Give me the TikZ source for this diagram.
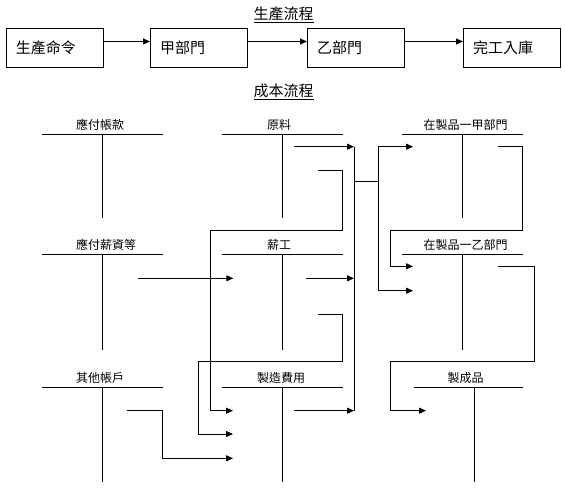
\documentclass[tikz,border=0pt]{standalone}
\usepackage{fontspec}
\newfontfamily\cjk{Noto Sans CJK TC}
\usetikzlibrary{arrows.meta,calc}
\tikzset{
  ln/.style={line width=0.9pt},
  arr/.style={ln,-{Triangle[length=7pt,width=6pt]}},
  boxnode/.style={draw,ln,anchor=north west,inner xsep=10pt,inner ysep=0pt,text width=77pt,align=left,minimum height=39.5pt,outer sep=0pt,font=\cjk\fontsize{15}{15}\selectfont},
  ttl/.style={font=\cjk\fontsize{15}{15}\selectfont,inner sep=0pt},
  lbl/.style={font=\cjk\fontsize{12}{12}\selectfont,inner sep=0pt}
}
% \tacc{name}{label}{x1}{x2}{xv}{y}{ybot}{labelx}{anchor}
\newcommand{\tacc}[9]{%
  \node[lbl,anchor=#9] (#1) at (#8,#6-9) {#2};
  \coordinate (#1L) at (#3,#6);
  \coordinate (#1R) at (#4,#6);
  \coordinate (#1T) at (#5,#6);
  \coordinate (#1B) at (#5,#7);
  \draw[ln] (#1L) -- (#1R);
  \draw[ln] (#1T) -- (#1B);
}
\begin{document}
\begin{tikzpicture}[x=1pt,y=-1pt]
\useasboundingbox (0,0) rectangle (565,497);
% production flow
\node[ttl] (t1) at (283.5,14.5) {\underline{生產流程}};
\node[boxnode] (b1) at (6,28) {生產命令};
\node[boxnode] (b2) at (150,28) {甲部門};
\node[boxnode] (b3) at (307,28) {乙部門};
\node[boxnode] (b4) at (463,28) {完工入庫};
\draw[arr] ([yshift=-13.5pt]b1.north east) -- ([yshift=-13.5pt]b2.north west);
\draw[arr] ([yshift=-13.5pt]b2.north east) -- ([yshift=-13.5pt]b3.north west);
\draw[arr] ([yshift=-13.5pt]b3.north east) -- ([yshift=-13.5pt]b4.north west);
% cost flow
\node[ttl] (t2) at (283.5,91.5) {\underline{成本流程}};
\tacc{A}{應付帳款}{41.7}{162.7}{102.3}{134.3}{218}{76}{west}
\tacc{B}{原料}{221.7}{342.7}{282.7}{134.3}{218}{279}{center}
\tacc{C}{在製品一甲部門}{402.3}{522.7}{462.7}{134.3}{218}{465.5}{center}
\tacc{D}{應付薪資等}{41.7}{162.7}{102.3}{254.3}{350}{76}{west}
\tacc{E}{薪工}{221.7}{342.7}{282.7}{254.3}{350}{279}{center}
\tacc{F}{在製品一乙部門}{402.3}{522.7}{462.7}{254.3}{350}{465.5}{center}
\tacc{G}{其他帳戶}{41.7}{162.7}{102.3}{387.3}{482.3}{76}{west}
\tacc{H}{製造費用}{221.7}{342.7}{282.7}{387.3}{482.3}{281}{center}
\tacc{I}{製成品}{414.3}{522.7}{474.3}{387.3}{482.3}{465.5}{center}
% bus coordinates
\coordinate (bus1T) at (354,146.7);
\coordinate (bus1B) at (354,410.7);
\coordinate (bus1M) at (354,181.7);
\coordinate (bus2T) at (378.3,146.7);
\coordinate (bus2B) at (378.3,290.7);
\coordinate (bus2M) at (378.3,181.7);
\draw[ln] (bus1T) -- (bus1B);
\draw[ln] (bus1M) -- (bus2M);
\draw[ln] (bus2T) -- (bus2B);
% free ends
\coordinate (Bo1) at (294,146.7);
\coordinate (Bo2) at (318.3,170.7);
\coordinate (Hi1) at (233,410.7);
\coordinate (Do1) at (138.3,278.3);
\coordinate (Ei1) at (233.3,278.3);
\coordinate (Eo1) at (306,278.3);
\coordinate (Eo2) at (318.3,314.3);
\coordinate (Hi2) at (233,434);
\coordinate (Go1) at (126.7,410.7);
\coordinate (Hi3) at (233,458.3);
\coordinate (Ho1) at (294,410.7);
\coordinate (Ci1) at (413,146.7);
\coordinate (Fi1) at (413,290.7);
\coordinate (Co1) at (498.3,146.7);
\coordinate (Fi2) at (413,266.3);
\coordinate (Fo1) at (498.3,266.3);
\coordinate (Ii1) at (426,410.7);
% connectors
\draw[arr] (Bo1) -- (bus1T);
\draw[arr] (Bo2) -- (342.7,170.7) -- (342.7,230) -- (210.7,230) -- (210.7,410.7) -- (Hi1);
\draw[arr] (Do1) -- (Ei1);
\draw[arr] (Eo1) -- (bus1T |- Eo1);
\draw[arr] (Eo2) -- (342.7,314.3) -- (342.7,361.7) -- (198.7,361.7) -- (198.7,434) -- (Hi2);
\draw[arr] (Go1) -- (162.7,410.7) -- (162.7,458.3) -- (Hi3);
\draw[arr] (Ho1) -- (bus1B);
\draw[arr] (bus2T) -- (Ci1);
\draw[arr] (bus2B) -- (Fi1);
\draw[arr] (Co1) -- (522.7,146.7) -- (522.7,230) -- (390,230) -- (390,266.3) -- (Fi2);
\draw[arr] (Fo1) -- (534.3,266.3) -- (534.3,361.7) -- (390,361.7) -- (390,410.7) -- (Ii1);
\end{tikzpicture}
\end{document}
